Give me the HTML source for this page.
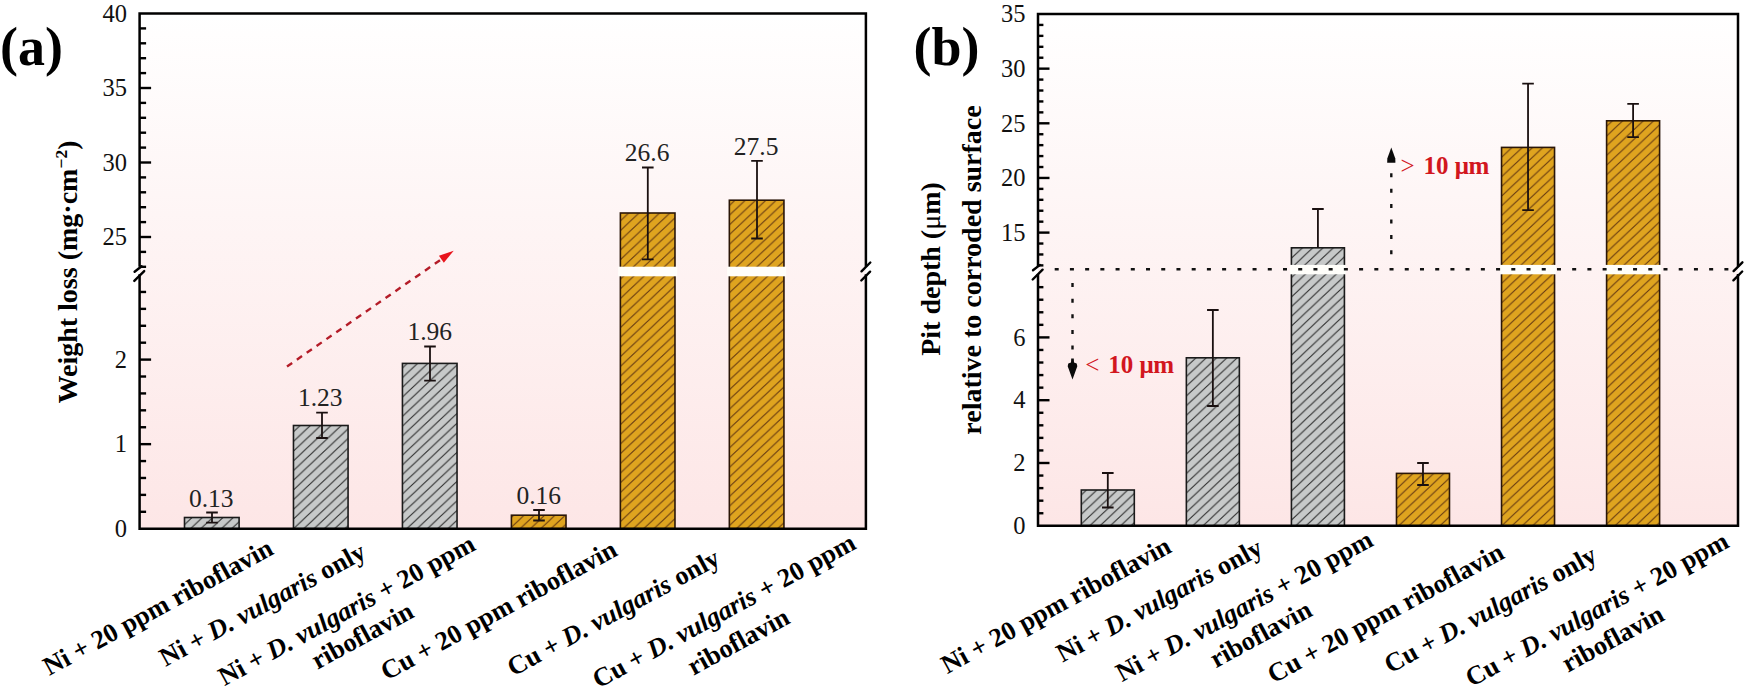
<!DOCTYPE html>
<html lang="en"><head><meta charset="utf-8"><title>Weight loss and pit depth</title>
<style>html,body{margin:0;padding:0;background:#fff;}body{width:1750px;height:690px;overflow:hidden;}</style></head>
<body>
<svg width="1750" height="690" viewBox="0 0 1750 690" style="display:block">
<rect width="1750" height="690" fill="#fff"/>
<defs>
<linearGradient id="bg" x1="0" y1="0" x2="0" y2="1">
<stop offset="0" stop-color="#ffffff"/><stop offset="0.35" stop-color="#fef6f6"/><stop offset="1" stop-color="#fde6e6"/>
</linearGradient>
<pattern id="hg" patternUnits="userSpaceOnUse" width="10.3" height="9.7">
<rect width="10.3" height="9.7" fill="#c7c9c9"/>
<path d="M-10.3,9.7 L10.3,-9.7 M0,9.7 L10.3,0 M0,19.4 L20.6,0" stroke="#2e2e2e" stroke-width="1.05"/>
</pattern>
<pattern id="ho" patternUnits="userSpaceOnUse" width="10.3" height="9.7">
<rect width="10.3" height="9.7" fill="#dfa41f"/>
<path d="M-10.3,9.7 L10.3,-9.7 M0,9.7 L10.3,0 M0,19.4 L20.6,0" stroke="#663a12" stroke-width="1.05"/>
</pattern>
</defs>
<rect x="139.6" y="13.6" width="726.3" height="515.1" fill="url(#bg)"/>
<rect x="184.50" y="517.50" width="54.60" height="11.20" fill="url(#hg)" stroke="#1a1a1a" stroke-width="1.6"/>
<rect x="293.47" y="425.50" width="54.60" height="103.20" fill="url(#hg)" stroke="#1a1a1a" stroke-width="1.6"/>
<rect x="402.44" y="363.40" width="54.60" height="165.30" fill="url(#hg)" stroke="#1a1a1a" stroke-width="1.6"/>
<rect x="511.41" y="515.20" width="54.60" height="13.50" fill="url(#ho)" stroke="#2a1608" stroke-width="1.6"/>
<rect x="620.38" y="213.00" width="54.60" height="315.70" fill="url(#ho)" stroke="#2a1608" stroke-width="1.6"/>
<rect x="729.35" y="200.20" width="54.60" height="328.50" fill="url(#ho)" stroke="#2a1608" stroke-width="1.6"/>
<rect x="618.18" y="266.70" width="59.00" height="9.60" fill="#fffefa"/>
<rect x="727.15" y="266.70" width="59.00" height="9.60" fill="#fffefa"/>
<path d="M212.00,512.50 V522.60 M206.20,512.50 H217.80 M206.20,522.60 H217.80" stroke="#1a1010" stroke-width="1.8" fill="none"/>
<path d="M322.00,412.60 V438.00 M316.20,412.60 H327.80 M316.20,438.00 H327.80" stroke="#1a1010" stroke-width="1.8" fill="none"/>
<path d="M430.00,346.50 V380.70 M424.20,346.50 H435.80 M424.20,380.70 H435.80" stroke="#1a1010" stroke-width="1.8" fill="none"/>
<path d="M539.00,510.00 V520.50 M533.20,510.00 H544.80 M533.20,520.50 H544.80" stroke="#1a1010" stroke-width="1.8" fill="none"/>
<path d="M647.80,167.50 V259.40 M642.00,167.50 H653.60 M642.00,259.40 H653.60" stroke="#1a1010" stroke-width="1.8" fill="none"/>
<path d="M757.00,160.90 V238.50 M751.20,160.90 H762.80 M751.20,238.50 H762.80" stroke="#1a1010" stroke-width="1.8" fill="none"/>
<path d="M139.6,265.5 V13.6 H865.9 V265.5 M865.9,275.5 V528.7 H139.6 V275.5" stroke="#000" stroke-width="2.5" fill="none" stroke-linecap="square"/>
<path d="M861.5,271.3 L870.3,262.5 M861.3,280.5 L870.1,271.7" stroke="#000" stroke-width="2.4" fill="none" stroke-linecap="round"/>
<path d="M134.6,271.7 L141.6,266.3 M134.29999999999998,280.9 L144.2,271.1" stroke="#000" stroke-width="2.4" fill="none" stroke-linecap="round"/>
<path d="M139.6,266.80 H146.1" stroke="#000" stroke-width="2.4"/>
<path d="M139.6,251.90 H146.1" stroke="#000" stroke-width="2.4"/>
<path d="M139.6,237.00 H151.1" stroke="#000" stroke-width="2.4"/>
<path d="M139.6,222.10 H146.1" stroke="#000" stroke-width="2.4"/>
<path d="M139.6,207.20 H146.1" stroke="#000" stroke-width="2.4"/>
<path d="M139.6,192.30 H146.1" stroke="#000" stroke-width="2.4"/>
<path d="M139.6,177.40 H146.1" stroke="#000" stroke-width="2.4"/>
<path d="M139.6,162.50 H151.1" stroke="#000" stroke-width="2.4"/>
<path d="M139.6,147.60 H146.1" stroke="#000" stroke-width="2.4"/>
<path d="M139.6,132.70 H146.1" stroke="#000" stroke-width="2.4"/>
<path d="M139.6,117.80 H146.1" stroke="#000" stroke-width="2.4"/>
<path d="M139.6,102.90 H146.1" stroke="#000" stroke-width="2.4"/>
<path d="M139.6,88.00 H151.1" stroke="#000" stroke-width="2.4"/>
<path d="M139.6,73.10 H146.1" stroke="#000" stroke-width="2.4"/>
<path d="M139.6,58.20 H146.1" stroke="#000" stroke-width="2.4"/>
<path d="M139.6,43.30 H146.1" stroke="#000" stroke-width="2.4"/>
<path d="M139.6,28.40 H146.1" stroke="#000" stroke-width="2.4"/>
<path d="M139.6,511.79 H146.1" stroke="#000" stroke-width="2.4"/>
<path d="M139.6,494.88 H146.1" stroke="#000" stroke-width="2.4"/>
<path d="M139.6,477.97 H146.1" stroke="#000" stroke-width="2.4"/>
<path d="M139.6,461.06 H146.1" stroke="#000" stroke-width="2.4"/>
<path d="M139.6,444.15 H151.1" stroke="#000" stroke-width="2.4"/>
<path d="M139.6,427.24 H146.1" stroke="#000" stroke-width="2.4"/>
<path d="M139.6,410.33 H146.1" stroke="#000" stroke-width="2.4"/>
<path d="M139.6,393.42 H146.1" stroke="#000" stroke-width="2.4"/>
<path d="M139.6,376.51 H146.1" stroke="#000" stroke-width="2.4"/>
<path d="M139.6,359.60 H151.1" stroke="#000" stroke-width="2.4"/>
<path d="M139.6,342.69 H146.1" stroke="#000" stroke-width="2.4"/>
<path d="M139.6,325.78 H146.1" stroke="#000" stroke-width="2.4"/>
<path d="M139.6,308.87 H146.1" stroke="#000" stroke-width="2.4"/>
<path d="M139.6,291.96 H146.1" stroke="#000" stroke-width="2.4"/>
<text x="127.1" y="21.70" text-anchor="end" font-family="'Liberation Serif', serif" font-size="24.5" fill="#111">40</text>
<text x="127.1" y="96.20" text-anchor="end" font-family="'Liberation Serif', serif" font-size="24.5" fill="#111">35</text>
<text x="127.1" y="170.70" text-anchor="end" font-family="'Liberation Serif', serif" font-size="24.5" fill="#111">30</text>
<text x="127.1" y="245.20" text-anchor="end" font-family="'Liberation Serif', serif" font-size="24.5" fill="#111">25</text>
<text x="127.1" y="367.80" text-anchor="end" font-family="'Liberation Serif', serif" font-size="24.5" fill="#111">2</text>
<text x="127.1" y="452.35" text-anchor="end" font-family="'Liberation Serif', serif" font-size="24.5" fill="#111">1</text>
<text x="127.1" y="536.90" text-anchor="end" font-family="'Liberation Serif', serif" font-size="24.5" fill="#111">0</text>
<text x="211.30" y="507" text-anchor="middle" font-family="'Liberation Serif', serif" font-size="25.5" fill="#222">0.13</text>
<text x="320.27" y="406.3" text-anchor="middle" font-family="'Liberation Serif', serif" font-size="25.5" fill="#222">1.23</text>
<text x="429.74" y="340.3" text-anchor="middle" font-family="'Liberation Serif', serif" font-size="25.5" fill="#222">1.96</text>
<text x="538.71" y="503.9" text-anchor="middle" font-family="'Liberation Serif', serif" font-size="25.5" fill="#222">0.16</text>
<text x="647.18" y="161" text-anchor="middle" font-family="'Liberation Serif', serif" font-size="25.5" fill="#222">26.6</text>
<text x="756.15" y="154.5" text-anchor="middle" font-family="'Liberation Serif', serif" font-size="25.5" fill="#222">27.5</text>
<path d="M287,366.5 L441.38,259.26" stroke="#b41c28" stroke-width="2.4" stroke-dasharray="6.3 5.7" fill="none"/>
<path d="M453.7,250.7 L443.83,262.79 L438.93,255.73 Z" fill="#e8141c"/>
<text x="0" y="65.3" font-family="'Liberation Serif', serif" font-size="54" font-weight="bold" fill="#000">(a)</text>
<text transform="translate(77,272) rotate(-90)" text-anchor="middle" font-family="'Liberation Serif', serif" font-size="28" font-weight="bold" fill="#000">Weight loss (mg·cm<tspan dy="-10" font-size="17.5">−2</tspan><tspan dy="10">)</tspan></text>
<text transform="translate(275,553.4) rotate(-28.5)" text-anchor="end" font-family="'Liberation Serif', serif" font-size="26.4" font-weight="bold" fill="#000" xml:space="preserve">Ni + 20 ppm riboflavin</text>
<text transform="translate(367.6,557.2) rotate(-28.5)" text-anchor="end" font-family="'Liberation Serif', serif" font-size="26.4" font-weight="bold" fill="#000" xml:space="preserve">Ni + <tspan font-style="italic">D. vulgaris</tspan> only</text>
<text transform="translate(477,549.2) rotate(-28.5)" text-anchor="end" font-family="'Liberation Serif', serif" font-size="26.4" font-weight="bold" fill="#000" xml:space="preserve">Ni + <tspan font-style="italic">D. vulgaris</tspan> + 20 ppm</text>
<text transform="translate(415.5,616.5) rotate(-28.5)" text-anchor="end" font-family="'Liberation Serif', serif" font-size="26.4" font-weight="bold" fill="#000" xml:space="preserve">riboflavin</text>
<text transform="translate(619,554.7) rotate(-28.5)" text-anchor="end" font-family="'Liberation Serif', serif" font-size="26.4" font-weight="bold" fill="#000" xml:space="preserve">Cu + 20 ppm riboflavin</text>
<text transform="translate(721.7,563.5) rotate(-28.5)" text-anchor="end" font-family="'Liberation Serif', serif" font-size="26.4" font-weight="bold" fill="#000" xml:space="preserve">Cu + <tspan font-style="italic">D. vulgaris</tspan> only</text>
<text transform="translate(857.5,548.1) rotate(-28.5)" text-anchor="end" font-family="'Liberation Serif', serif" font-size="26.4" font-weight="bold" fill="#000" xml:space="preserve">Cu + <tspan font-style="italic">D. vulgaris</tspan> + 20 ppm</text>
<text transform="translate(791.5,622.5) rotate(-28.5)" text-anchor="end" font-family="'Liberation Serif', serif" font-size="26.4" font-weight="bold" fill="#000" xml:space="preserve">riboflavin</text>
<rect x="1038.0" y="13.9" width="700.0" height="511.9" fill="url(#bg)"/>
<rect x="1081.30" y="490.00" width="53.00" height="35.80" fill="url(#hg)" stroke="#1a1a1a" stroke-width="1.6"/>
<rect x="1186.36" y="357.80" width="53.00" height="168.00" fill="url(#hg)" stroke="#1a1a1a" stroke-width="1.6"/>
<rect x="1291.42" y="247.80" width="53.00" height="278.00" fill="url(#hg)" stroke="#1a1a1a" stroke-width="1.6"/>
<rect x="1396.48" y="473.40" width="53.00" height="52.40" fill="url(#ho)" stroke="#2a1608" stroke-width="1.6"/>
<rect x="1501.54" y="147.40" width="53.00" height="378.40" fill="url(#ho)" stroke="#2a1608" stroke-width="1.6"/>
<rect x="1606.60" y="120.80" width="53.00" height="405.00" fill="url(#ho)" stroke="#2a1608" stroke-width="1.6"/>
<rect x="1289.92" y="264.90" width="56.00" height="9.40" fill="#fffefa"/>
<rect x="1500.04" y="264.90" width="56.00" height="9.40" fill="#fffefa"/>
<rect x="1605.10" y="264.90" width="56.00" height="9.40" fill="#fffefa"/>
<path d="M1107.80,473.00 V507.50 M1102.00,473.00 H1113.60 M1102.00,507.50 H1113.60" stroke="#1a1010" stroke-width="1.8" fill="none"/>
<path d="M1212.86,310.00 V406.00 M1207.06,310.00 H1218.66 M1207.06,406.00 H1218.66" stroke="#1a1010" stroke-width="1.8" fill="none"/>
<path d="M1317.92,209.00 V247.80 M1312.12,209.00 H1323.72" stroke="#1a1010" stroke-width="1.8" fill="none"/>
<path d="M1422.98,463.00 V485.00 M1417.18,463.00 H1428.78 M1417.18,485.00 H1428.78" stroke="#1a1010" stroke-width="1.8" fill="none"/>
<path d="M1528.04,83.60 V210.20 M1522.24,83.60 H1533.84 M1522.24,210.20 H1533.84" stroke="#1a1010" stroke-width="1.8" fill="none"/>
<path d="M1633.10,103.80 V137.20 M1627.30,103.80 H1638.90 M1627.30,137.20 H1638.90" stroke="#1a1010" stroke-width="1.8" fill="none"/>
<path d="M1038.0,265.3 V13.9 H1738 V265.3 M1738,275.3 V525.8 H1038.0 V275.3" stroke="#000" stroke-width="2.5" fill="none" stroke-linecap="square"/>
<path d="M1733.6,271.1 L1742.4,262.3 M1733.4,280.3 L1742.2,271.5" stroke="#000" stroke-width="2.4" fill="none" stroke-linecap="round"/>
<path d="M1033.0,270.3 L1040.0,264.90000000000003 M1032.7,279.5 L1042.6,269.70000000000005" stroke="#000" stroke-width="2.4" fill="none" stroke-linecap="round"/>
<path d="M1038.0,265.39 H1043.4" stroke="#000" stroke-width="2.4"/>
<path d="M1038.0,254.46 H1043.4" stroke="#000" stroke-width="2.4"/>
<path d="M1038.0,243.53 H1043.4" stroke="#000" stroke-width="2.4"/>
<path d="M1038.0,232.60 H1049.5" stroke="#000" stroke-width="2.4"/>
<path d="M1038.0,221.67 H1043.4" stroke="#000" stroke-width="2.4"/>
<path d="M1038.0,210.74 H1043.4" stroke="#000" stroke-width="2.4"/>
<path d="M1038.0,199.81 H1043.4" stroke="#000" stroke-width="2.4"/>
<path d="M1038.0,188.88 H1043.4" stroke="#000" stroke-width="2.4"/>
<path d="M1038.0,177.95 H1049.5" stroke="#000" stroke-width="2.4"/>
<path d="M1038.0,167.02 H1043.4" stroke="#000" stroke-width="2.4"/>
<path d="M1038.0,156.09 H1043.4" stroke="#000" stroke-width="2.4"/>
<path d="M1038.0,145.16 H1043.4" stroke="#000" stroke-width="2.4"/>
<path d="M1038.0,134.23 H1043.4" stroke="#000" stroke-width="2.4"/>
<path d="M1038.0,123.30 H1049.5" stroke="#000" stroke-width="2.4"/>
<path d="M1038.0,112.37 H1043.4" stroke="#000" stroke-width="2.4"/>
<path d="M1038.0,101.44 H1043.4" stroke="#000" stroke-width="2.4"/>
<path d="M1038.0,90.51 H1043.4" stroke="#000" stroke-width="2.4"/>
<path d="M1038.0,79.58 H1043.4" stroke="#000" stroke-width="2.4"/>
<path d="M1038.0,68.65 H1049.5" stroke="#000" stroke-width="2.4"/>
<path d="M1038.0,57.72 H1043.4" stroke="#000" stroke-width="2.4"/>
<path d="M1038.0,46.79 H1043.4" stroke="#000" stroke-width="2.4"/>
<path d="M1038.0,35.86 H1043.4" stroke="#000" stroke-width="2.4"/>
<path d="M1038.0,24.93 H1043.4" stroke="#000" stroke-width="2.4"/>
<path d="M1038.0,513.24 H1043.4" stroke="#000" stroke-width="2.4"/>
<path d="M1038.0,500.68 H1043.4" stroke="#000" stroke-width="2.4"/>
<path d="M1038.0,488.12 H1043.4" stroke="#000" stroke-width="2.4"/>
<path d="M1038.0,475.56 H1043.4" stroke="#000" stroke-width="2.4"/>
<path d="M1038.0,463.00 H1049.5" stroke="#000" stroke-width="2.4"/>
<path d="M1038.0,450.44 H1043.4" stroke="#000" stroke-width="2.4"/>
<path d="M1038.0,437.88 H1043.4" stroke="#000" stroke-width="2.4"/>
<path d="M1038.0,425.32 H1043.4" stroke="#000" stroke-width="2.4"/>
<path d="M1038.0,412.76 H1043.4" stroke="#000" stroke-width="2.4"/>
<path d="M1038.0,400.20 H1049.5" stroke="#000" stroke-width="2.4"/>
<path d="M1038.0,387.64 H1043.4" stroke="#000" stroke-width="2.4"/>
<path d="M1038.0,375.08 H1043.4" stroke="#000" stroke-width="2.4"/>
<path d="M1038.0,362.52 H1043.4" stroke="#000" stroke-width="2.4"/>
<path d="M1038.0,349.96 H1043.4" stroke="#000" stroke-width="2.4"/>
<path d="M1038.0,337.40 H1049.5" stroke="#000" stroke-width="2.4"/>
<path d="M1038.0,324.84 H1043.4" stroke="#000" stroke-width="2.4"/>
<path d="M1038.0,312.28 H1043.4" stroke="#000" stroke-width="2.4"/>
<path d="M1038.0,299.72 H1043.4" stroke="#000" stroke-width="2.4"/>
<path d="M1038.0,287.16 H1043.4" stroke="#000" stroke-width="2.4"/>
<text x="1025.5" y="22.20" text-anchor="end" font-family="'Liberation Serif', serif" font-size="24.5" fill="#111">35</text>
<text x="1025.5" y="76.85" text-anchor="end" font-family="'Liberation Serif', serif" font-size="24.5" fill="#111">30</text>
<text x="1025.5" y="131.50" text-anchor="end" font-family="'Liberation Serif', serif" font-size="24.5" fill="#111">25</text>
<text x="1025.5" y="186.15" text-anchor="end" font-family="'Liberation Serif', serif" font-size="24.5" fill="#111">20</text>
<text x="1025.5" y="240.80" text-anchor="end" font-family="'Liberation Serif', serif" font-size="24.5" fill="#111">15</text>
<text x="1025.5" y="345.60" text-anchor="end" font-family="'Liberation Serif', serif" font-size="24.5" fill="#111">6</text>
<text x="1025.5" y="408.40" text-anchor="end" font-family="'Liberation Serif', serif" font-size="24.5" fill="#111">4</text>
<text x="1025.5" y="471.20" text-anchor="end" font-family="'Liberation Serif', serif" font-size="24.5" fill="#111">2</text>
<text x="1025.5" y="534.00" text-anchor="end" font-family="'Liberation Serif', serif" font-size="24.5" fill="#111">0</text>
<path d="M1054.7,269.3 H1738" stroke="#111" stroke-width="2.4" stroke-dasharray="4 11.22" fill="none"/>
<path d="M1072.5,283.1 V352" stroke="#111" stroke-width="2.4" stroke-dasharray="4 11.6" fill="none"/>
<path d="M1391.3,173.3 V256" stroke="#111" stroke-width="2.4" stroke-dasharray="4 11.4" fill="none"/>
<path d="M1072.5,379.4 L1067.7,366.2 L1068.3,363.6 L1071,362.4 L1071.2,358.5 L1073.8,358.5 L1074,362.4 L1076.7,363.6 L1077.3,366.2 Z" fill="#0a0a0a"/>
<path d="M1391.3,147.6 L1387.3,158.5 L1387.2,162.8 L1395.4,162.8 L1395.3,158.5 Z" fill="#0a0a0a"/>
<text y="373" font-family="'Liberation Serif', serif" font-size="25" font-weight="bold" fill="#d2161e"><tspan x="1085.2" font-weight="normal">&lt;</tspan><tspan x="1108.2">10</tspan><tspan x="1139.6">μ</tspan><tspan x="1153.3">m</tspan></text>
<text y="174" font-family="'Liberation Serif', serif" font-size="25" font-weight="bold" fill="#d2161e"><tspan x="1400.4" font-weight="normal">&gt;</tspan><tspan x="1423.4">10</tspan><tspan x="1454.8">μ</tspan><tspan x="1468.5">m</tspan></text>
<text x="913.5" y="65.3" font-family="'Liberation Serif', serif" font-size="54" font-weight="bold" fill="#000">(b)</text>
<text transform="translate(940,269) rotate(-90)" text-anchor="middle" font-family="'Liberation Serif', serif" font-size="28" font-weight="bold" fill="#000">Pit depth (<tspan font-weight="normal">μ</tspan>m)</text>
<text transform="translate(981,270) rotate(-90)" text-anchor="middle" font-family="'Liberation Serif', serif" font-size="28" font-weight="bold" fill="#000">relative to corroded surface</text>
<text transform="translate(1173,551.5) rotate(-28.5)" text-anchor="end" font-family="'Liberation Serif', serif" font-size="26.4" font-weight="bold" fill="#000" xml:space="preserve">Ni + 20 ppm riboflavin</text>
<text transform="translate(1264.4,553.1) rotate(-28.5)" text-anchor="end" font-family="'Liberation Serif', serif" font-size="26.4" font-weight="bold" fill="#000" xml:space="preserve">Ni + <tspan font-style="italic">D. vulgaris</tspan> only</text>
<text transform="translate(1374.7,545.1) rotate(-28.5)" text-anchor="end" font-family="'Liberation Serif', serif" font-size="26.4" font-weight="bold" fill="#000" xml:space="preserve">Ni + <tspan font-style="italic">D. vulgaris</tspan> + 20 ppm</text>
<text transform="translate(1313.9,615) rotate(-28.5)" text-anchor="end" font-family="'Liberation Serif', serif" font-size="26.4" font-weight="bold" fill="#000" xml:space="preserve">riboflavin</text>
<text transform="translate(1505.8,557.5) rotate(-28.5)" text-anchor="end" font-family="'Liberation Serif', serif" font-size="26.4" font-weight="bold" fill="#000" xml:space="preserve">Cu + 20 ppm riboflavin</text>
<text transform="translate(1598.7,560.5) rotate(-28.5)" text-anchor="end" font-family="'Liberation Serif', serif" font-size="26.4" font-weight="bold" fill="#000" xml:space="preserve">Cu + <tspan font-style="italic">D. vulgaris</tspan> only</text>
<text transform="translate(1730.5,546.6) rotate(-28.5)" text-anchor="end" font-family="'Liberation Serif', serif" font-size="26.4" font-weight="bold" fill="#000" xml:space="preserve">Cu + <tspan font-style="italic">D. vulgaris</tspan> + 20 ppm</text>
<text transform="translate(1666,619.5) rotate(-28.5)" text-anchor="end" font-family="'Liberation Serif', serif" font-size="26.4" font-weight="bold" fill="#000" xml:space="preserve">riboflavin</text>
</svg>
</body></html>
